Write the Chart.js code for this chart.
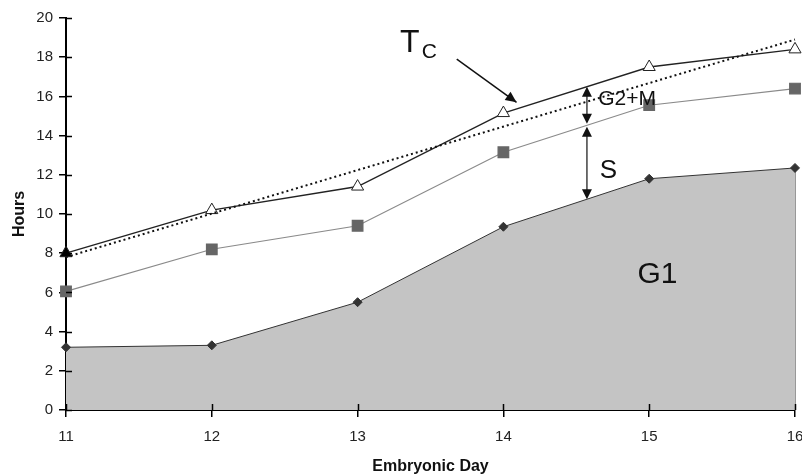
<!DOCTYPE html>
<html>
<head>
<meta charset="utf-8">
<script src="https://cdn.jsdelivr.net/npm/chart.js@4/dist/chart.umd.min.js"></script>
<style>
  html, body { margin: 0; padding: 0; background: #fff; }
  #wrap { width: 802px; height: 476px; position: relative; }
</style>
</head>
<body>
<div id="wrap"><canvas id="c"></canvas></div>
<script>
// --- Daten ---
const days = [11, 12, 13, 14, 15, 16];
const g1Hours = [3.2, 3.3, 5.5, 9.35, 11.8, 12.35];   // G1 (Fläche)
const g1sHours = [6.05, 8.2, 9.4, 13.15, 15.55, 16.4]; // G1 + S
const tcHours = [8.0, 10.2, 11.4, 15.15, 17.5, 18.4];  // Tc
const trendDays = [11, 16];
const trendHours = [7.8, 18.9];
const yTicks = [0, 2, 4, 6, 8, 10, 12, 14, 16, 18, 20];

const FONT = "Arial, 'Liberation Sans', sans-serif";
const pts = (xs, ys) => xs.map((x, i) => ({ x, y: ys[i] }));

// lineare Interpolation auf einer Serie (für die Pfeile)
const interp = (xs, ys, x) => {
  for (let i = 0; i < xs.length - 1; i++) {
    if (x >= xs[i] && x <= xs[i + 1]) {
      const t = (x - xs[i]) / (xs[i + 1] - xs[i]);
      return ys[i] + t * (ys[i + 1] - ys[i]);
    }
  }
  return ys[ys.length - 1];
};

const arrowHead = (ctx, x1, y1, x2, y2, len = 10, wid = 4.5) => {
  const a = Math.atan2(y2 - y1, x2 - x1);
  ctx.beginPath();
  ctx.moveTo(x2, y2);
  ctx.lineTo(x2 - len * Math.cos(a) + wid * Math.sin(a), y2 - len * Math.sin(a) - wid * Math.cos(a));
  ctx.lineTo(x2 - len * Math.cos(a) - wid * Math.sin(a), y2 - len * Math.sin(a) + wid * Math.cos(a));
  ctx.closePath();
  ctx.fill();
};

// Achsen-Striche nach innen + Beschriftungen / Pfeile
const annotations = {
  id: "annotations",
  beforeDatasetsDraw(chart) {
    const { ctx, scales: { x, y } } = chart;
    ctx.save();
    // rechter Rand der G1-Fläche
    ctx.strokeStyle = "#333";
    ctx.lineWidth = 1;
    ctx.beginPath();
    ctx.moveTo(x.getPixelForValue(16), y.getPixelForValue(g1Hours[5]));
    ctx.lineTo(x.getPixelForValue(16), y.getPixelForValue(0));
    ctx.stroke();
    ctx.restore();
  },
  afterDraw(chart) {
    const { ctx, scales: { x, y } } = chart;
    ctx.save();

    // Tick-Striche innen
    ctx.strokeStyle = "#000";
    ctx.lineWidth = 1.5;
    ctx.beginPath();
    yTicks.forEach((v) => {
      const py = Math.round(y.getPixelForValue(v)) + 0.5;
      ctx.moveTo(x.left, py);
      ctx.lineTo(x.left + 6, py);
    });
    days.forEach((d) => {
      const px = Math.round(x.getPixelForValue(d)) + 0.5;
      ctx.moveTo(px, y.bottom);
      ctx.lineTo(px, y.bottom - 6);
    });
    ctx.stroke();

    ctx.fillStyle = "#111";
    ctx.strokeStyle = "#111";
    ctx.textAlign = "left";
    ctx.textBaseline = "alphabetic";

    // T_C mit Pfeil
    ctx.font = `32px ${FONT}`;
    ctx.fillText("T", x.getPixelForValue(13.29), y.getPixelForValue(18.29));
    ctx.font = `21px ${FONT}`;
    ctx.fillText("C", x.getPixelForValue(13.44), y.getPixelForValue(17.98));
    const ax1 = x.getPixelForValue(13.68), ay1 = y.getPixelForValue(17.9);
    const ax2 = x.getPixelForValue(14.09), ay2 = y.getPixelForValue(15.7);
    ctx.lineWidth = 1.5;
    ctx.beginPath();
    ctx.moveTo(ax1, ay1);
    ctx.lineTo(ax2, ay2);
    ctx.stroke();
    arrowHead(ctx, ax1, ay1, ax2, ay2, 11, 5);

    // Doppelpfeile G2+M und S
    const xa = 14.573;
    const px = x.getPixelForValue(xa);
    const yTc = y.getPixelForValue(interp(days, tcHours, xa));
    const ySq = y.getPixelForValue(interp(days, g1sHours, xa));
    const yG1 = y.getPixelForValue(interp(days, g1Hours, xa));
    const dbl = (top, bot) => {
      ctx.lineWidth = 1.2;
      ctx.beginPath();
      ctx.moveTo(px, top + 2);
      ctx.lineTo(px, bot - 2);
      ctx.stroke();
      arrowHead(ctx, px, bot, px, top, 10, 5);
      arrowHead(ctx, px, top, px, bot, 10, 5);
    };
    dbl(yTc, ySq - 1.5);
    dbl(ySq + 1.5, yG1);

    ctx.font = `21px ${FONT}`;
    ctx.fillText("G2+M", x.getPixelForValue(14.65), y.getPixelForValue(15.55));
    ctx.font = `26px ${FONT}`;
    ctx.fillText("S", x.getPixelForValue(14.66), y.getPixelForValue(11.86));
    ctx.font = `30px ${FONT}`;
    ctx.fillText("G1", x.getPixelForValue(14.92), y.getPixelForValue(6.5));

    ctx.restore();
  },
};

const tcFill = tcHours.map((_, i) => (i === 0 ? "#000" : "#fff"));

new Chart(document.getElementById("c"), {
  type: "line",
  data: {
    datasets: [
      {
        label: "Trend",
        data: pts(trendDays, trendHours),
        borderColor: "#111",
        borderWidth: 2,
        borderDash: [2, 3],
        pointRadius: 0,
        fill: false,
        clip: false,
        order: 1,
      },
      {
        label: "Tc",
        data: pts(days, tcHours),
        borderColor: "#222",
        borderWidth: 1.4,
        pointStyle: "triangle",
        pointRadius: 7,
        pointBackgroundColor: tcFill,
        pointBorderColor: "#222",
        pointBorderWidth: 1,
        fill: false,
        clip: false,
        order: 2,
      },
      {
        label: "G1+S",
        data: pts(days, g1sHours),
        borderColor: "#8a8a8a",
        borderWidth: 1.2,
        pointStyle: "rect",
        pointRadius: 7.5,
        pointBackgroundColor: "#666",
        pointBorderColor: "#666",
        fill: false,
        clip: false,
        order: 3,
      },
      {
        label: "G1",
        data: pts(days, g1Hours),
        borderColor: "#333",
        borderWidth: 1,
        backgroundColor: "#c4c4c4",
        pointStyle: "rectRot",
        pointRadius: 4.5,
        pointBackgroundColor: "#333",
        pointBorderColor: "#333",
        fill: "origin",
        clip: false,
        order: 4,
      },
    ],
  },
  options: {
    responsive: true,
    maintainAspectRatio: false,
    animation: false,
    layout: { autoPadding: false, padding: { left: 0, right: 7, top: 18, bottom: 0 } },
    plugins: { legend: { display: false }, tooltip: { enabled: false } },
    scales: {
      x: {
        type: "linear",
        min: 11,
        max: 16,
        afterFit: (s) => { s.height = 66; s.paddingLeft = 0; s.paddingRight = 0; },
        ticks: { stepSize: 1, padding: 11, color: "#222", font: { family: FONT, size: 15 } },
        grid: { drawOnChartArea: false, tickLength: 7, color: "#000", lineWidth: 1.5 },
        border: { color: "#000", width: 2 },
        title: {
          display: true,
          text: "Embryonic Day",
          color: "#111",
          padding: { top: 0, bottom: 0 },
          font: { family: FONT, size: 16, weight: "bold" },
        },
      },
      y: {
        min: 0,
        max: 20,
        afterFit: (s) => { s.width = 66; },
        ticks: { stepSize: 2, padding: 6, color: "#222", font: { family: FONT, size: 15 } },
        grid: { drawOnChartArea: false, tickLength: 7, color: "#000", lineWidth: 1.5 },
        border: { color: "#000", width: 2 },
        title: {
          display: true,
          text: "Hours",
          color: "#111",
          padding: { top: 10, bottom: 0 },
          font: { family: FONT, size: 16, weight: "bold" },
        },
      },
    },
  },
  plugins: [annotations],
});
</script>
</body>
</html>
